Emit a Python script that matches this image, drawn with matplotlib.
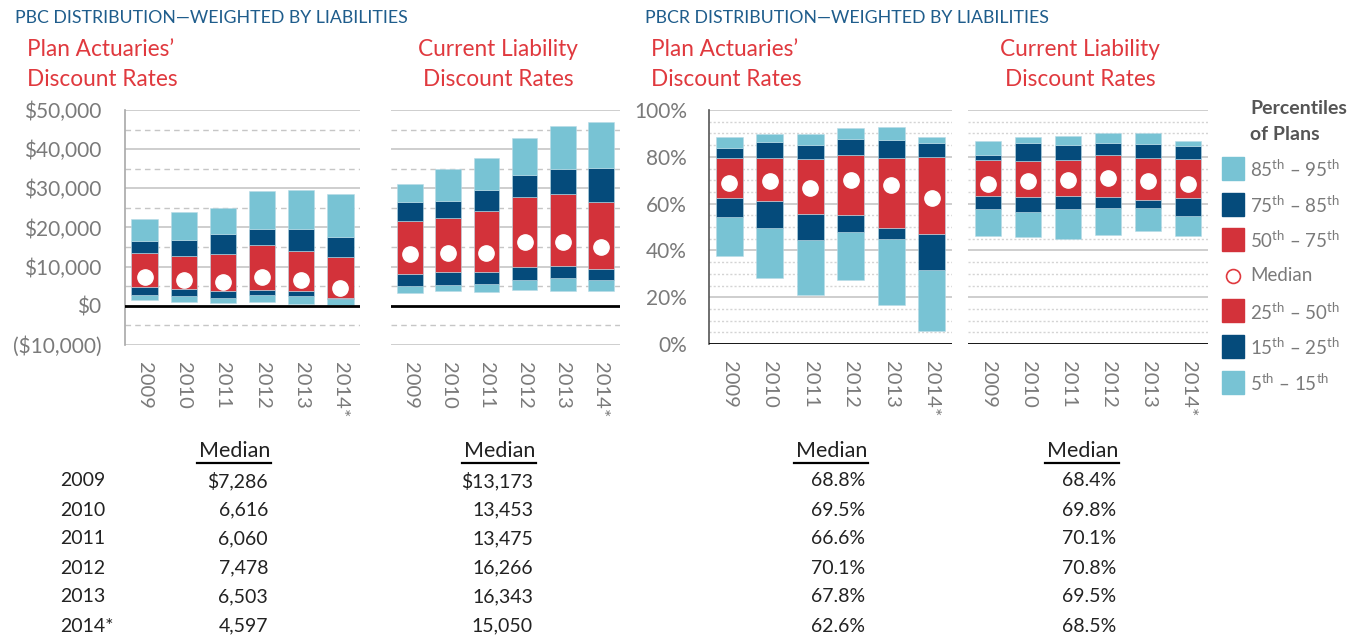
import numpy as np
import matplotlib
matplotlib.use("Agg")
import matplotlib.pyplot as plt
from matplotlib.patches import Rectangle
from matplotlib.lines import Line2D
from matplotlib.ticker import FuncFormatter

plt.rcParams['font.family'] = ['Lato', 'DejaVu Sans']
plt.rcParams['mathtext.fontset'] = 'custom'
plt.rcParams['mathtext.rm'] = 'Lato'

years = ['2009', '2010', '2011', '2012', '2013', '2014*']

# PBC, plan actuaries' discount rates (percentiles 5, 15, 25, 75, 85, 95)
pbc_act_p5 = [1530, 1100, 850, 1100, 425, 255]
pbc_act_p15 = [2720, 2470, 2040, 2720, 2470, 1700]
pbc_act_p25 = [4850, 4340, 3830, 4080, 3660, 2040]
pbc_act_p75 = [13520, 12670, 13180, 15480, 14120, 12410]
pbc_act_p85 = [16580, 16840, 18280, 19730, 19640, 17690]
pbc_act_p95 = [22100, 23900, 25000, 29420, 29590, 28570]
pbc_act_med = [7286, 6616, 6060, 7478, 6503, 4597]

# PBC, current liability discount rates
pbc_cl_p5 = [3260, 3690, 3520, 3950, 3690, 3860]
pbc_cl_p15 = [5150, 5400, 5660, 6690, 7120, 6690]
pbc_cl_p25 = [8150, 8660, 8580, 9950, 10210, 9430]
pbc_cl_p75 = [21780, 22300, 24270, 27700, 28640, 26590]
pbc_cl_p85 = [26410, 26760, 29670, 33450, 34990, 35250]
pbc_cl_p95 = [31050, 34990, 37820, 42880, 45800, 47000]
pbc_cl_med = [13173, 13453, 13475, 16266, 16343, 15050]

# PBCR, plan actuaries' discount rates (%)
pbcr_act_p5 = [37.7, 28.2, 21.1, 27.4, 16.8, 5.7]
pbcr_act_p15 = [54.3, 49.4, 44.4, 47.9, 45.0, 31.6]
pbcr_act_p25 = [62.5, 61.0, 55.6, 55.1, 49.7, 47.2]
pbcr_act_p75 = [79.3, 79.5, 79.2, 80.6, 79.5, 79.8]
pbcr_act_p85 = [83.9, 86.3, 84.9, 87.5, 87.3, 85.8]
pbcr_act_p95 = [88.6, 89.9, 89.6, 92.3, 92.9, 88.5]
pbcr_act_med = [68.8, 69.5, 66.6, 70.1, 67.8, 62.6]

# PBCR, current liability discount rates (%)
pbcr_cl_p5 = [46.2, 45.9, 44.8, 46.5, 48.3, 46.2]
pbcr_cl_p15 = [57.5, 56.4, 57.7, 58.2, 58.1, 54.5]
pbcr_cl_p25 = [63.4, 62.8, 63.4, 62.8, 61.7, 62.3]
pbcr_cl_p75 = [78.6, 78.2, 78.5, 80.8, 79.5, 79.2]
pbcr_cl_p85 = [80.8, 86.1, 84.9, 85.8, 85.4, 84.5]
pbcr_cl_p95 = [86.8, 88.5, 88.7, 90.1, 90.2, 86.8]
pbcr_cl_med = [68.4, 69.8, 70.1, 70.8, 69.5, 68.5]

legend_labels = [r'85$^{\rm th}$ – 95$^{\rm th}$', r'75$^{\rm th}$ – 85$^{\rm th}$',
                 r'50$^{\rm th}$ – 75$^{\rm th}$', 'Median',
                 r'25$^{\rm th}$ – 50$^{\rm th}$', r'15$^{\rm th}$ – 25$^{\rm th}$',
                 r'5$^{\rm th}$ – 15$^{\rm th}$']

LIGHT = '#78c3d4'
DARK = '#054b7b'
RED = '#d3323a'
GRAY = '#7a7a7a'
TITLE = '#1f5d8c'
SUB = '#e0393e'

W, H = 1357, 637
fig = plt.figure(figsize=(W / 100, H / 100), dpi=100)


def box(x0, y0, x1, y1):
    return [x0 / W, 1 - y1 / H, (x1 - x0) / W, (y1 - y0) / H]


def panel(rect, p5, p15, p25, p75, p85, p95, med, ylim, major, minor, dash, dcol,
          left_spine, spine_col, ypad):
    ax = fig.add_axes(rect)
    x = np.arange(len(years))
    for lo, hi, c in [(p5, p15, LIGHT), (p15, p25, DARK), (p25, p75, RED),
                      (p75, p85, DARK), (p85, p95, LIGHT)]:
        lo = np.array(lo, float)
        hi = np.array(hi, float)
        ax.bar(x, hi - lo, bottom=lo, width=0.67, color=c, edgecolor='#b9dbe6',
               linewidth=0.4, zorder=3)
    ax.plot(x, med, 'o', ms=11, color='white', mec='white', zorder=5)
    ax.set_xlim(-0.5, len(years) - 0.5)
    ax.set_ylim(*ylim)
    for v in np.arange(ylim[0], ylim[1] + 0.01, minor):
        if v == 0:
            continue
        if abs(v / major - round(v / major)) < 1e-6:
            ax.axhline(v, color='#c6c6c6', lw=1.2, zorder=1)
        else:
            ax.axhline(v, color=dcol, lw=1.0, ls=dash, zorder=1)
    ax.axhline(0, color='black', lw=2, zorder=4)
    for s in ['top', 'right', 'bottom']:
        ax.spines[s].set_visible(False)
    ax.spines['left'].set_visible(left_spine)
    ax.spines['left'].set_color(spine_col)
    ax.spines['left'].set_linewidth(1.2)
    ax.set_xticks(x)
    ax.set_xticklabels(years, rotation=-90, color=GRAY, fontsize=14.5)
    ax.tick_params(axis='x', length=0, pad=12)
    ax.tick_params(axis='y', length=0, pad=ypad, labelsize=15, labelcolor=GRAY)
    ax.set_yticks(np.arange(ylim[0], ylim[1] + 0.01, major))
    return ax


def dollars(v, pos):
    if v < 0:
        return '(${:,.0f})'.format(-v)
    return '${:,.0f}'.format(v)


ax1 = panel(box(125, 110, 360, 345), pbc_act_p5, pbc_act_p15, pbc_act_p25, pbc_act_p75,
            pbc_act_p85, pbc_act_p95, pbc_act_med, (-10000, 50000), 10000, 5000,
            (0, (4, 3)), '#c6c6c6', True, '#a8a8a8', 17)
ax1.yaxis.set_major_formatter(FuncFormatter(dollars))

ax2 = panel(box(391, 110, 620, 345), pbc_cl_p5, pbc_cl_p15, pbc_cl_p25, pbc_cl_p75,
            pbc_cl_p85, pbc_cl_p95, pbc_cl_med, (-10000, 50000), 10000, 5000,
            (0, (4, 3)), '#c6c6c6', False, '#a8a8a8', 17)
ax2.set_yticklabels([])

ax3 = panel(box(709, 110, 952, 344), pbcr_act_p5, pbcr_act_p15, pbcr_act_p25, pbcr_act_p75,
            pbcr_act_p85, pbcr_act_p95, pbcr_act_med, (0, 100), 20, 5,
            (0, (1.5, 1.5)), '#d4d4d4', True, '#555555', 16)
ax3.yaxis.set_major_formatter(FuncFormatter(lambda v, p: '{:.0f}%'.format(v)))

ax4 = panel(box(968, 110, 1208, 344), pbcr_cl_p5, pbcr_cl_p15, pbcr_cl_p25, pbcr_cl_p75,
            pbcr_cl_p85, pbcr_cl_p95, pbcr_cl_med, (0, 100), 20, 5,
            (0, (1.5, 1.5)), '#d4d4d4', False, '#555555', 16)
ax4.set_yticklabels([])

# titles
fig.text(15 / W, 1 - 18 / H, 'PBC DISTRIBUTION—WEIGHTED BY LIABILITIES', color=TITLE,
         fontsize=12.8, va='center', ha='left')
fig.text(645 / W, 1 - 18 / H, 'PBCR DISTRIBUTION—WEIGHTED BY LIABILITIES', color=TITLE,
         fontsize=12.8, va='center', ha='left')
for xl, ha, t1 in [(27, 'left', 'Plan Actuaries’'), (498, 'center', 'Current Liability'),
                   (651, 'left', 'Plan Actuaries’'), (1080, 'center', 'Current Liability')]:
    fig.text(xl / W, 1 - 49 / H, t1, color=SUB, fontsize=16.3, va='center', ha=ha)
    fig.text(xl / W, 1 - 80 / H, 'Discount Rates', color=SUB, fontsize=16.3, va='center', ha=ha)

# legend
fig.text(1250 / W, 1 - 108 / H, 'Percentiles', color='#555555', fontsize=14,
         fontweight='bold', va='center')
fig.text(1250 / W, 1 - 134 / H, 'of Plans', color='#555555', fontsize=14,
         fontweight='bold', va='center')
leg_colors = [LIGHT, DARK, RED, None, RED, DARK, LIGHT]
for i, (lab, c) in enumerate(zip(legend_labels, leg_colors)):
    yc = 169 + i * 35.6
    if c is None:
        fig.add_artist(Line2D([1233 / W], [1 - yc / H], marker='o', ms=10, mfc='white',
                              mec=SUB, mew=1.2, transform=fig.transFigure))
    else:
        fig.add_artist(Rectangle((1222 / W, 1 - (yc + 11) / H), 22 / W, 23 / H,
                                 color=c, transform=fig.transFigure))
    fig.text(1250 / W, 1 - yc / H, lab, color=GRAY, fontsize=13.5, va='center')

# median tables
row_y = [481, 510, 539, 568, 597, 626]
for i, yr in enumerate(years):
    fig.text(60 / W, 1 - row_y[i] / H, yr, color='#222222', fontsize=14, va='center')

tables = [
    (270, ['${:,.0f}'.format(pbc_act_med[0])] + ['{:,.0f}'.format(v) for v in pbc_act_med[1:]]),
    (535, ['${:,.0f}'.format(pbc_cl_med[0])] + ['{:,.0f}'.format(v) for v in pbc_cl_med[1:]]),
    (867, ['{:.1f}%'.format(v) for v in pbcr_act_med]),
    (1118, ['{:.1f}%'.format(v) for v in pbcr_cl_med]),
]
for xr, vals in tables:
    fig.text(xr / W, 1 - 451 / H, 'Median', color='#222222', fontsize=15.5, va='center', ha='right')
    fig.add_artist(Line2D([(xr - 73) / W, (xr + 1) / W], [1 - 463 / H, 1 - 463 / H],
                          color='black', lw=1.6, transform=fig.transFigure))
    for i, v in enumerate(vals):
        fig.text((xr - 2) / W, 1 - row_y[i] / H, v, color='#222222', fontsize=14,
                 va='center', ha='right')

fig.savefig('out.png', dpi=100)
